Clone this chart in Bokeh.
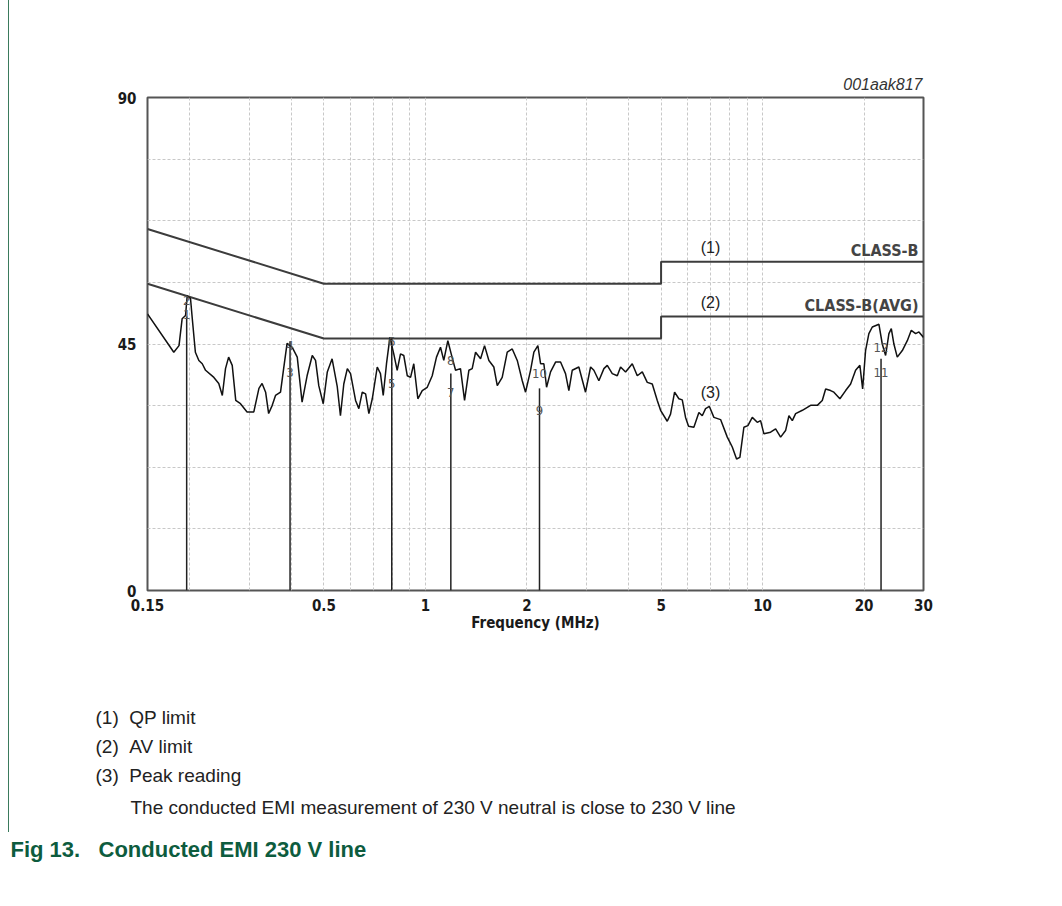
from bokeh.plotting import figure
from bokeh.layouts import column
from bokeh.models import Range1d, FixedTicker, Label, Title
from bokeh.core.properties import value
from bokeh.embed import file_html
from bokeh.resources import INLINE

# ---------------- data ----------------
freq_mhz = [0.15, 0.1795, 0.186, 0.190, 0.1945, 0.1967, 0.2012, 0.2036, 0.208, 0.213,
            0.218, 0.223, 0.236, 0.244, 0.250, 0.2555, 0.261, 0.2675, 0.274, 0.283,
            0.296, 0.310, 0.321, 0.328, 0.336, 0.343, 0.3515, 0.3595, 0.372, 0.380,
            0.389, 0.403, 0.417, 0.431, 0.446, 0.462, 0.4725, 0.483, 0.498, 0.512,
            0.529, 0.548, 0.560, 0.573, 0.587, 0.600, 0.621, 0.635, 0.650, 0.665,
            0.680, 0.696, 0.720, 0.736, 0.750, 0.767, 0.785, 0.806, 0.825, 0.844,
            0.863, 0.884, 0.904, 0.924, 0.950, 0.979, 1.013, 1.048, 1.079, 1.109,
            1.134, 1.166, 1.193, 1.229, 1.271, 1.307, 1.346, 1.377, 1.409, 1.458,
            1.498, 1.543, 1.596, 1.634, 1.690, 1.749, 1.810, 1.873, 1.938, 1.982,
            2.051, 2.098, 2.156, 2.196, 2.246, 2.288, 2.351, 2.433, 2.517, 2.604,
            2.664, 2.726, 2.852, 2.985, 3.090, 3.160, 3.270, 3.384, 3.463, 3.583,
            3.708, 3.792, 3.924, 4.107, 4.250, 4.398, 4.550, 4.708, 4.872, 4.983,
            5.215, 5.334, 5.483, 5.646, 5.778, 5.910, 6.032, 6.255, 6.473, 6.624,
            6.775, 6.954, 7.171, 7.506, 7.858, 8.130, 8.372, 8.563, 8.801, 9.045,
            9.320, 9.643, 9.863, 10.09, 10.56, 10.93, 11.31, 11.70, 11.97, 12.25,
            12.53, 13.12, 13.88, 14.53, 15.03, 15.38, 15.91, 16.27, 16.95, 17.63,
            18.24, 18.87, 19.43, 19.80, 20.20, 20.66, 21.15, 22.13, 22.64, 23.16,
            23.69, 24.08, 24.51, 25.08, 25.96, 26.86, 27.60, 28.43, 29.08, 30.0]
peak_db = [50.5, 43.5, 44.7, 49.6, 50.2, 53.8, 53.3, 49.7, 43.5, 42.0,
           41.4, 40.2, 38.9, 37.8, 35.6, 40.5, 42.6, 41.1, 34.7, 34.1,
           32.6, 32.6, 36.9, 37.8, 36.2, 32.3, 33.8, 35.6, 36.2, 40.5,
           45.1, 44.4, 42.6, 34.4, 39.2, 42.9, 42.0, 37.4, 34.1, 39.9,
           42.3, 37.2, 31.9, 37.7, 40.5, 39.6, 34.7, 33.2, 36.2, 35.9,
           32.3, 35.0, 40.8, 39.6, 35.6, 41.4, 46.2, 43.2, 40.2, 43.2,
           42.9, 39.2, 38.9, 41.4, 35.0, 36.5, 37.1, 39.2, 42.6, 44.4,
           42.0, 45.6, 43.2, 40.2, 40.5, 34.7, 40.2, 40.5, 43.5, 42.3,
           44.7, 42.0, 40.8, 37.4, 38.9, 43.5, 44.1, 42.0, 38.3, 36.2,
           40.2, 43.5, 44.7, 41.4, 41.4, 37.1, 39.9, 41.7, 41.7, 39.6,
           36.5, 40.2, 40.8, 36.2, 40.8, 40.2, 38.3, 40.5, 41.1, 39.6,
           39.2, 40.8, 39.9, 41.4, 39.2, 39.9, 38.0, 37.7, 34.7, 32.9,
           30.9, 32.2, 36.2, 35.0, 34.8, 31.6, 30.0, 29.8, 32.5, 31.9,
           33.2, 33.6, 31.6, 31.2, 28.0, 26.2, 24.0, 24.3, 29.8, 30.1,
           31.6, 30.7, 31.0, 28.6, 28.9, 29.5, 28.0, 29.2, 31.9, 31.0,
           32.3, 32.9, 33.8, 33.8, 34.7, 36.8, 36.5, 36.2, 35.0, 36.5,
           37.7, 40.2, 41.1, 36.8, 43.8, 46.9, 48.1, 48.6, 45.0, 42.9,
           46.9, 47.8, 45.0, 42.6, 43.8, 45.6, 47.5, 46.9, 47.2, 46.2]

qp_freq = [0.15, 0.5, 5, 5, 30]
qp_db = [66, 56, 56, 60, 60]
av_freq = [0.15, 0.5, 5, 5, 30]
av_db = [56, 46, 46, 50, 50]

marker_freq = [0.196, 0.397, 0.795, 1.19, 2.18, 22.45]
marker_top = [50.0, 45.5, 46.2, 39.6, 36.9, 42.3]
marker_text = ["1", "2", "3", "4", "5", "6", "7", "8", "9", "10", "11", "12"]
marker_text_freq = [0.196, 0.196, 0.397, 0.397, 0.795, 0.795, 1.19, 1.19, 2.18, 2.18, 22.45, 22.45]
marker_text_db = [50.3, 53.0, 39.8, 44.8, 37.8, 45.5, 36.1, 42.0, 32.8, 39.6, 39.8, 44.4]

x_ticks = [0.15, 0.5, 1, 2, 5, 10, 20, 30]
x_tick_labels = ["0.15", "0.5", "1", "2", "5", "10", "20", "30"]
y_ticks = [0, 45, 90]
x_grid = [0.2, 0.3, 0.4, 0.5, 0.6, 0.7, 0.8, 0.9, 1, 2, 3, 4, 5, 6, 7, 8, 9, 10, 20]
y_grid = [11.25, 22.5, 33.75, 45, 56.25, 67.5, 78.75]

curve_ids = ["(1)", "(2)", "(3)"]
curve_id_freq = [7.01, 7.01, 7.01]
curve_id_db = [62.6, 52.6, 36.2]
limit_names = ["CLASS-B", "CLASS-B(AVG)"]
limit_name_db = [62.1, 52.0]

legend_ids = ["(1)", "(2)", "(3)"]
legend_texts = ["QP limit", "AV limit", "Peak reading"]
note_text = "The conducted EMI measurement of 230 V neutral is close to 230 V line"
caption_text = "Fig 13.\u00a0\u00a0\u00a0Conducted EMI 230 V line"

# ---------------- figure ----------------
W = 1056
H_CHART = 832
H_CAP = 66
NARROW = "DejaVu Sans Condensed, Liberation Sans, sans-serif"
SANS = "Liberation Sans"
NB = "\u00a0"

p = figure(width=W, height=H_CHART, x_axis_type="log",
           x_range=Range1d(0.15, 30), y_range=Range1d(0, 90),
           output_backend="svg", toolbar_location=None,
           min_border_left=147, min_border_right=W - 147 - 776,
           min_border_top=97, min_border_bottom=H_CHART - 590)
p.styles = {"background-image":
            "linear-gradient(to right, rgba(255,255,255,0) 8px, #3a7a5c 8px, "
            "#3a7a5c 9px, rgba(255,255,255,0) 9px)"}
p.background_fill_color = "white"
p.border_fill_color = None
p.outline_line_color = "#555555"
p.outline_line_width = 2

# axes
p.xaxis.ticker = FixedTicker(ticks=x_ticks, minor_ticks=[])
p.xaxis.major_label_overrides = {t: s for t, s in zip(x_ticks, x_tick_labels)}
p.yaxis.ticker = FixedTicker(ticks=y_ticks, minor_ticks=[])
for ax in (p.xaxis[0], p.yaxis[0]):
    ax.axis_line_color = None
    ax.major_tick_line_color = None
    ax.minor_tick_line_color = None
    ax.major_label_text_font = NARROW
    ax.major_label_text_font_style = "bold"
    ax.major_label_text_font_size = "15px"
    ax.major_label_text_color = "#1a1a1a"
p.xaxis.major_label_standoff = 2
p.yaxis.major_label_standoff = 5
p.xaxis.axis_label = "Frequency (MHz)"
p.xaxis.axis_label_text_font = NARROW
p.xaxis.axis_label_text_font_style = "bold"
p.xaxis.axis_label_text_font_size = "15px"
p.xaxis.axis_label_text_color = "#1a1a1a"
p.xaxis.axis_label_standoff = 0

# grid
p.xgrid.ticker = FixedTicker(ticks=x_grid, minor_ticks=[])
p.ygrid.ticker = FixedTicker(ticks=y_grid, minor_ticks=[])
for g in (p.xgrid[0], p.ygrid[0]):
    g.grid_line_color = "#c8c8c8"
    g.grid_line_dash = "3 2"
    g.grid_line_width = 1

# limit lines
p.line(qp_freq, qp_db, line_color="#3c3c3c", line_width=2)
p.line(av_freq, av_db, line_color="#3c3c3c", line_width=2)

# marker lines
p.segment(x0=marker_freq, y0=[0] * len(marker_freq), x1=marker_freq, y1=marker_top,
          line_color="#222222", line_width=1.5)

# peak reading
p.line(freq_mhz, peak_db, line_color="#111111", line_width=1.5)

# marker labels
p.text(x=marker_text_freq, y=marker_text_db, text=marker_text,
       text_font=value(NARROW), text_font_size="13px", text_color="#555555",
       text_align="center", text_baseline="middle")

# limit names
for name, yv in zip(limit_names, limit_name_db):
    p.add_layout(Label(x=30, y=yv, x_offset=-5, text=name, text_align="right",
                       text_baseline="middle", text_font=NARROW, text_font_style="bold",
                       text_font_size="16px", text_color="#444444"))
for txt, fx, yv in zip(curve_ids, curve_id_freq, curve_id_db):
    p.add_layout(Label(x=fx, y=yv, text=txt, text_align="center", text_baseline="middle",
                       text_font=SANS, text_font_size="16px", text_color="#222222",
                       background_fill_color="white" if txt == "(3)" else None))

# figure id above the frame
p.add_layout(Title(text="001aak817", align="right", offset=1, standoff=9,
                   text_font=SANS, text_font_style="italic", text_font_size="16px",
                   text_color="#333333"), "above")

# legend texts and note below the chart (stacked under the x axis)
p.add_layout(Title(text=NB, align="left", standoff=44, text_font=SANS,
                   text_font_size="19px", text_color="#ffffff"), "below")
for lid, ltxt in zip(legend_ids, legend_texts):
    p.add_layout(Title(text=lid + NB * 2 + ltxt, align="left", offset=-52, standoff=6,
                       text_font=SANS, text_font_style="normal", text_font_size="19px",
                       text_color="#222222"), "below")
p.add_layout(Title(text=note_text, align="left", offset=-17, standoff=12,
                   text_font=SANS, text_font_style="normal", text_font_size="19px",
                   text_color="#222222"), "below")

# caption figure
c = figure(width=W, height=H_CAP, x_range=Range1d(0, 1), y_range=Range1d(0, 1),
           output_backend="svg", toolbar_location=None,
           x_axis_location=None, y_axis_location=None, min_border=0)
c.outline_line_color = None
c.xgrid.visible = False
c.ygrid.visible = False
c.add_layout(Title(text=caption_text, align="left", offset=-137, standoff=4,
                   text_font=SANS, text_font_style="bold", text_font_size="22px",
                   text_color="#0d5c3e"), "above")

layout = column(p, c, spacing=0)
open("out.html", "w").write(file_html(layout, INLINE))
